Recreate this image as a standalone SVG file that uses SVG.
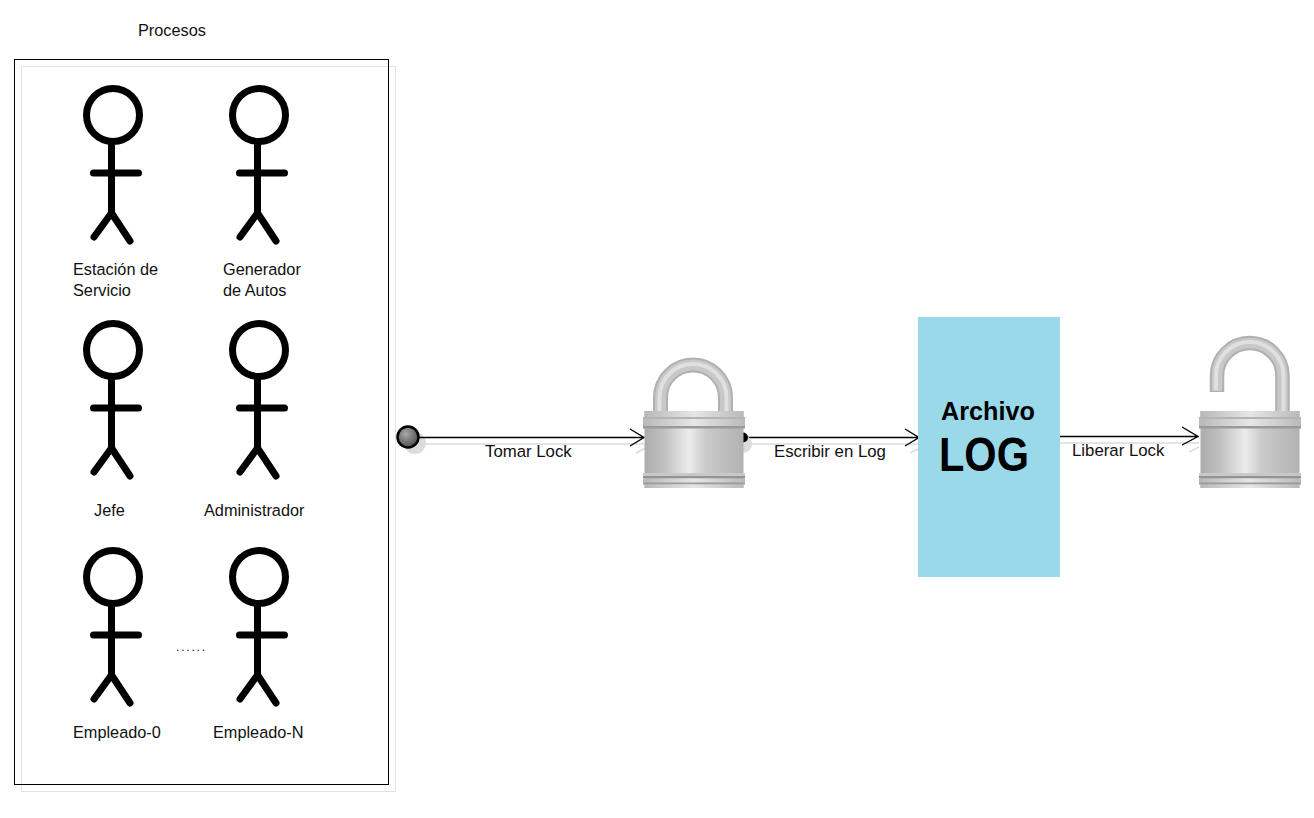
<svg xmlns="http://www.w3.org/2000/svg" xmlns:xlink="http://www.w3.org/1999/xlink" width="1314" height="818" viewBox="0 0 1314 818">
<style>
text{font-family:"Liberation Sans",Arial,sans-serif;font-size:16.3px;fill:#111}
.c{font-size:16.8px}
.b{font-weight:bold;fill:#000}
.act{fill:none;stroke:#000;stroke-width:7;stroke-linecap:round}
.ln{fill:none;stroke:#000;stroke-width:1.4}
.sh{fill:none;stroke:#dcdcdc;stroke-width:1.4}
</style>
<defs>
<linearGradient id="body" x1="0" x2="1" y1="0" y2="0">
<stop offset="0" stop-color="#acacac"/><stop offset=".2" stop-color="#c0c0c0"/><stop offset=".45" stop-color="#ececec"/><stop offset=".62" stop-color="#cacaca"/><stop offset="1" stop-color="#b2b2b2"/>
</linearGradient>
<linearGradient id="band" x1="0" x2="1" y1="0" y2="0">
<stop offset="0" stop-color="#b8b8b8"/><stop offset=".35" stop-color="#d8d8d8"/><stop offset=".5" stop-color="#e6e6e6"/><stop offset=".75" stop-color="#d0d0d0"/><stop offset="1" stop-color="#bababa"/>
</linearGradient>
<radialGradient id="ball" cx=".4" cy=".35" r=".7">
<stop offset="0" stop-color="#a8a8a8"/><stop offset="1" stop-color="#4a4a4a"/>
</radialGradient>
<g id="actor">
<circle cx="113" cy="115" r="26.500" class="act"/>
<path d="M111.500 143V213M93.500 173H138.500M111.500 213L94 237M111.500 213L130 241" class="act"/>
</g>
<g id="lockBody">
<rect x="1.500" y="0" width="99" height="77" fill="url(#body)"/>
<rect x="1.500" y="0" width="99" height="7" fill="url(#band)"/>
<rect x="0" y="6" width="102" height="2" fill="#b4b4b4"/>
<rect x="0" y="8" width="102" height="7" fill="url(#band)"/>
<rect x="0" y="15" width="102" height="2.500" fill="#9a9a9a"/>
<rect x="0" y="62" width="102" height="3" fill="#c8c8c8"/>
<rect x="0" y="65" width="102" height="2.500" fill="#949494"/>
<rect x="0" y="67.500" width="102" height="4" fill="url(#band)"/>
<rect x="0" y="71.500" width="102" height="2" fill="#9c9c9c"/>
<rect x="1.500" y="73.500" width="99" height="3.500" fill="url(#band)"/>
</g>
</defs>
<g id="procesos">
<rect x="21.500" y="66.500" width="374" height="725" fill="#fff" stroke="#e2e2e2"/>
<rect x="14.500" y="59.500" width="374" height="725" fill="none" stroke="#000"/>
<text x="138" y="36">Procesos</text>
</g>
<g id="actor-estacion"><use xlink:href="#actor" href="#actor"/><text x="73" y="275">Estación de</text><text x="73" y="296">Servicio</text></g>
<g id="actor-generador"><use xlink:href="#actor" href="#actor" x="146"/><text x="223" y="275">Generador</text><text x="223" y="296">de Autos</text></g>
<g id="actor-jefe"><use xlink:href="#actor" href="#actor" y="235"/><text x="94" y="516">Jefe</text></g>
<g id="actor-admin"><use xlink:href="#actor" href="#actor" x="146" y="235"/><text x="204" y="516">Administrador</text></g>
<g id="actor-emp0"><use xlink:href="#actor" href="#actor" y="462"/><text x="73" y="738">Empleado-0</text></g>
<g id="actor-empn"><use xlink:href="#actor" href="#actor" x="146" y="462"/><text x="213" y="738">Empleado-N</text></g>
<text x="176" y="651" style="font-size:12px;letter-spacing:1.800px">......</text>
<g id="connectors">
<path d="M420 444H644M746 444H919M1060 443H1199" class="sh"/>
<circle cx="415" cy="443" r="11" fill="#dcdcdc"/>
<path d="M636 453L646 448M910 453L920 448M1189 452L1199 447" class="sh"/>
<path d="M418 437.500H644M630 429L644 437.500L630 446" class="ln"/>
<path d="M746 437.500H919M905 429L919 437.500L905 446" class="ln"/>
<path d="M1060 436.500H1198M1182 427L1198 436.500L1182 445" class="ln"/>
<circle cx="408" cy="437" r="10.500" fill="url(#ball)" stroke="#000" stroke-width="2.500"/>
<circle cx="743" cy="444" r="9" fill="#dcdcdc"/>
<circle cx="743" cy="437.500" r="5" fill="#000"/>
</g>
<g id="lock-closed">
<path d="M660.500 411V397.500A32.500 32.500 0 0 1 725.500 397.500V411" fill="none" stroke="#b0b0b0" stroke-width="15"/>
<path d="M660.500 411V397.500A32.500 32.500 0 0 1 725.500 397.500V411" fill="none" stroke="#c8c8c8" stroke-width="11"/>
<path d="M659.500 411V397.500A33.500 33.500 0 0 1 726.500 397.500V411" fill="none" stroke="#e0e0e0" stroke-width="4"/>
<use xlink:href="#lockBody" href="#lockBody" x="643" y="411"/>
<text x="485" y="457" class="c">Tomar Lock</text>
</g>
<g id="archivo-log">
<rect x="918" y="317" width="142" height="260" fill="#99d9ea"/>
<text x="941" y="420" class="b" style="font-size:25.200px">Archivo</text>
<text x="939" y="471" class="b" style="font-size:47.500px" textLength="90" lengthAdjust="spacingAndGlyphs">LOG</text>
<text x="774" y="457" class="c">Escribir en Log</text>
</g>
<g id="lock-open">
<path d="M1217 392V375.700A32.700 32.700 0 0 1 1282.500 375.700V411" fill="none" stroke="#b0b0b0" stroke-width="14.500"/>
<path d="M1217 391V375.700A32.700 32.700 0 0 1 1282.500 375.700V411" fill="none" stroke="#c8c8c8" stroke-width="10.500"/>
<path d="M1216 390V375.700A33.700 33.700 0 0 1 1283.500 375.700V411" fill="none" stroke="#e0e0e0" stroke-width="4"/>
<use xlink:href="#lockBody" href="#lockBody" x="1199" y="411"/>
<text x="1072" y="456" class="c">Liberar Lock</text>
</g>
</svg>
